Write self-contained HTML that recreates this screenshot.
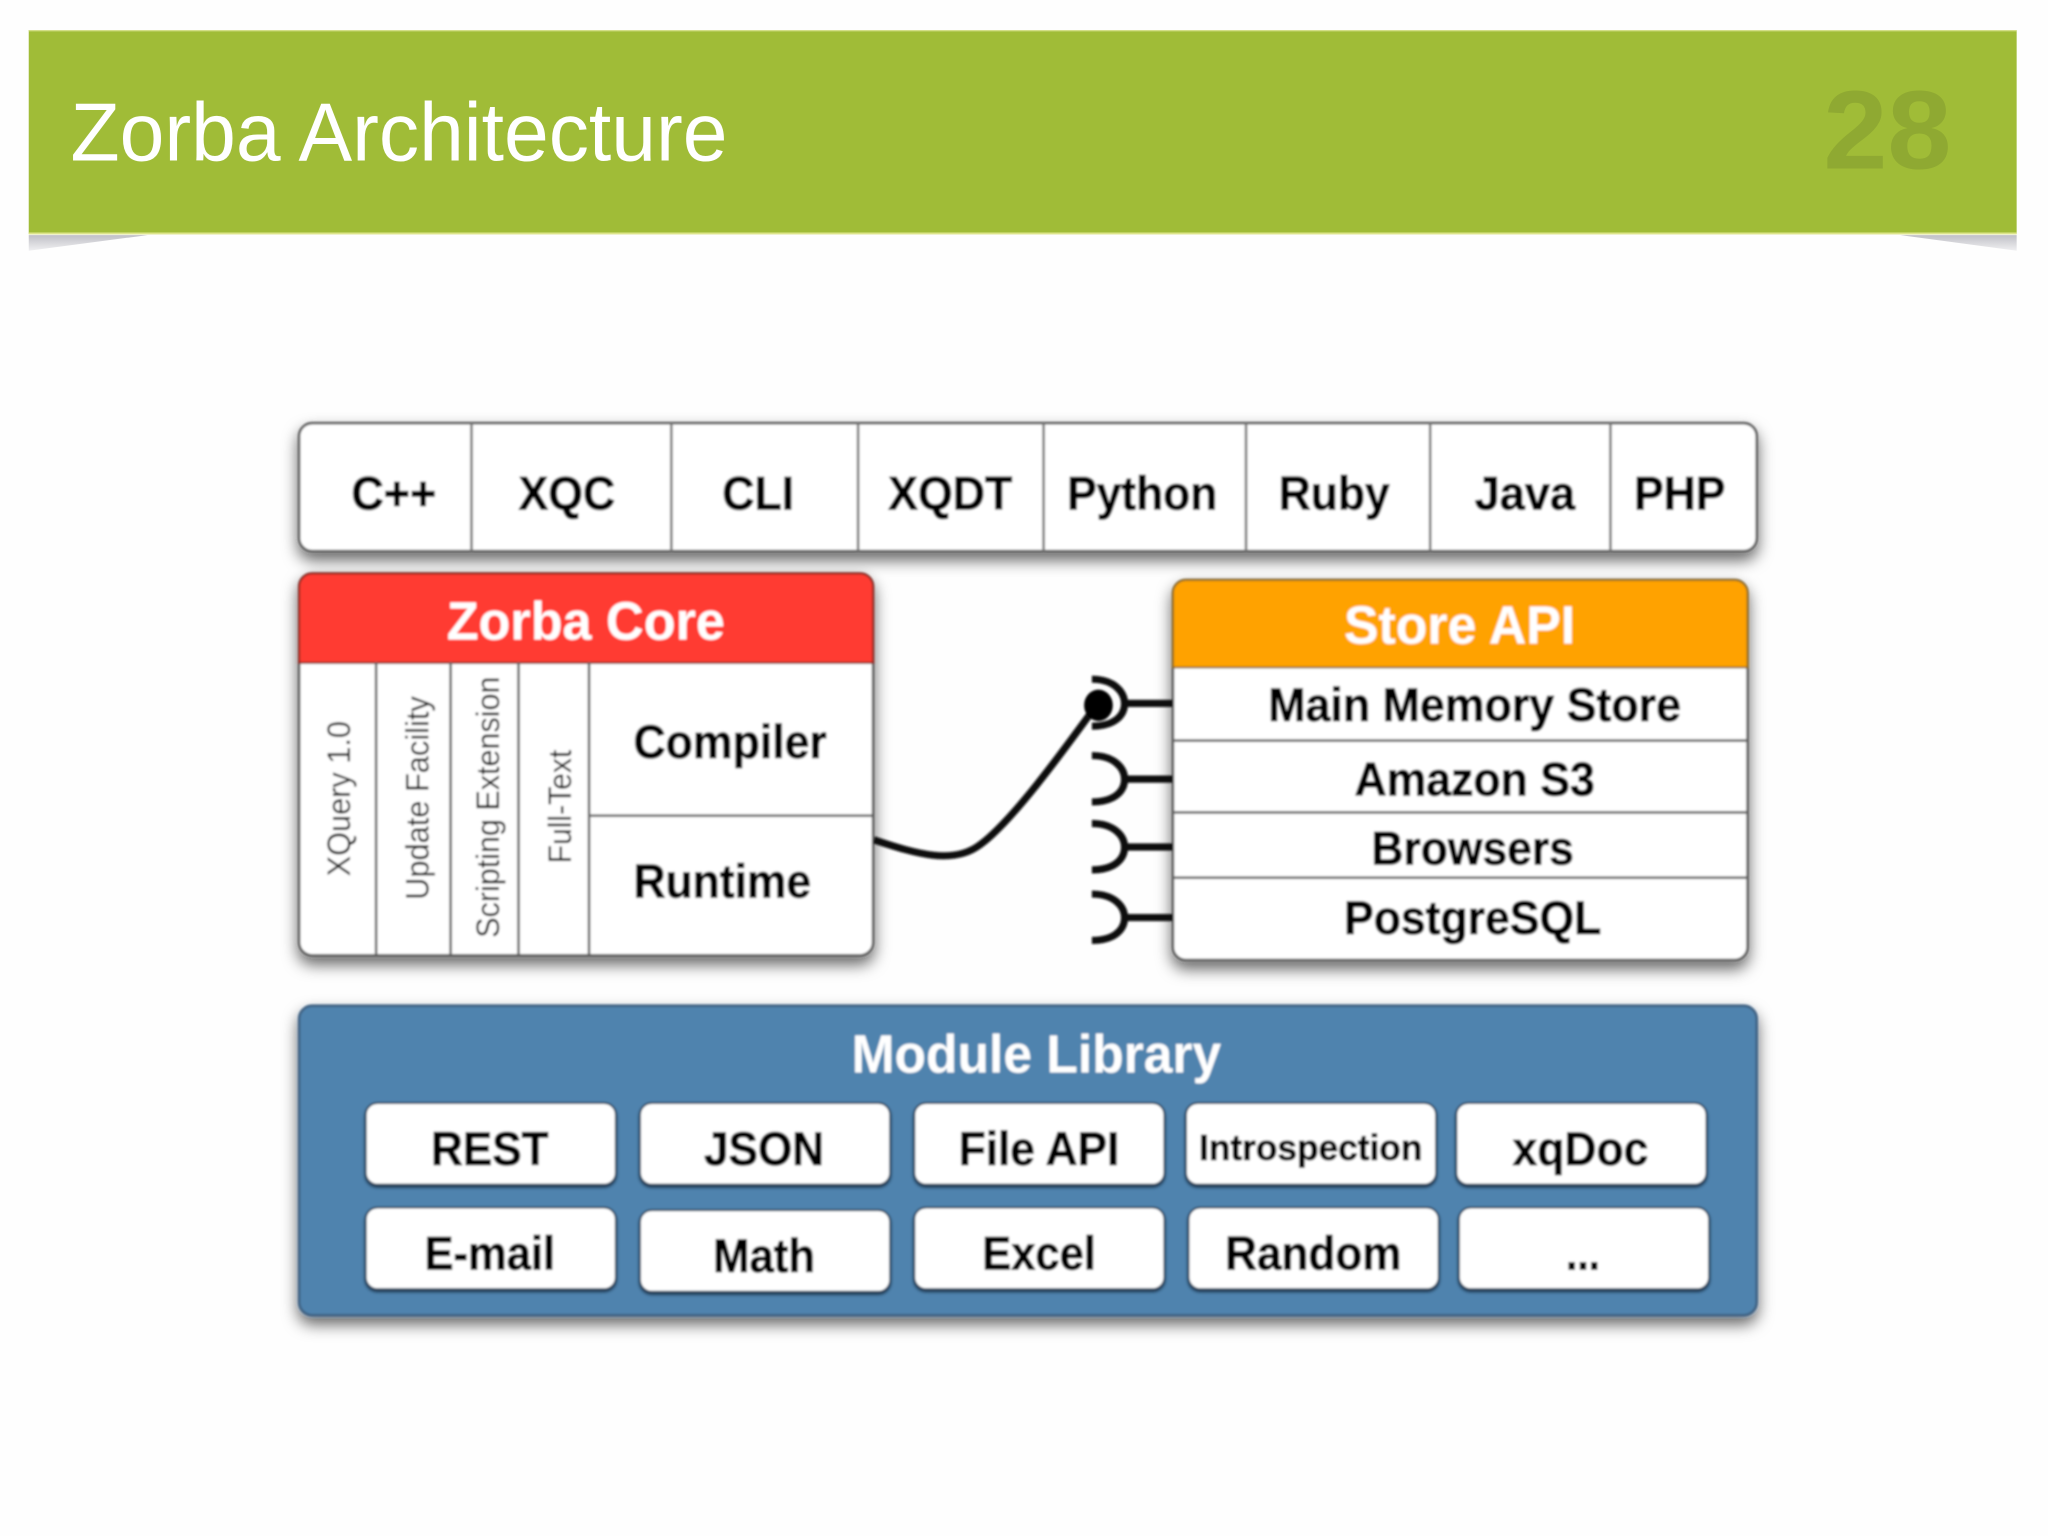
<!DOCTYPE html>
<html>
<head>
<meta charset="utf-8">
<style>
html,body{margin:0;padding:0;background:#fefefe;}
svg{display:block;width:2048px;height:1536px;}
text{font-family:"Liberation Sans",sans-serif;}
.b{font-weight:bold;fill:#000;font-size:36px;stroke:#000;stroke-width:0.6px;}
.w{font-weight:bold;fill:#fff;font-size:41px;}
.r{fill:#111;font-size:25px;}
</style>
</head>
<body>
<svg xmlns="http://www.w3.org/2000/svg" viewBox="0 0 1568 1176">
<defs>
<filter id="sh" x="-5%" y="-10%" width="110%" height="130%">
<feDropShadow dx="0" dy="6" stdDeviation="6" flood-color="#000" flood-opacity="0.6"/>
</filter>
<filter id="sm" x="-5%" y="-5%" width="110%" height="110%">
<feGaussianBlur stdDeviation="0.8"/>
</filter>
<filter id="is" x="-5%" y="-10%" width="110%" height="125%">
<feDropShadow dx="0" dy="1.5" stdDeviation="1" flood-color="#0a2030" flood-opacity="0.85"/>
</filter>
<linearGradient id="g1" x1="0" y1="0" x2="0" y2="1"><stop offset="0" stop-color="#c0c0c6"/><stop offset="1" stop-color="#f0f0f2"/></linearGradient>
</defs>
<rect width="1568" height="1176" fill="#fefefe"/>

<!-- header -->
<polygon points="22,180 113,180 22,192" fill="url(#g1)"/>
<polygon points="1455,180 1544,180 1544,192" fill="url(#g1)"/>
<rect x="22" y="23" width="1522" height="156" fill="#a0bc37"/>
<rect x="22" y="23" width="1522" height="1" fill="#d5e08a"/>
<rect x="22" y="178" width="1522" height="1.5" fill="#dde58a"/>
<text x="54" y="123" font-size="63" fill="#fff" textLength="503" lengthAdjust="spacingAndGlyphs">Zorba Architecture</text>
<text x="1396" y="129" font-size="85" font-weight="bold" fill="#8fa932" textLength="98" lengthAdjust="spacingAndGlyphs">28</text>

<g filter="url(#sm)">
<!-- top row -->
<rect x="229" y="324" width="1116" height="98" rx="10" fill="#fff" stroke="#555" stroke-width="2" filter="url(#sh)"/>
<g stroke="#777" stroke-width="2">
<line x1="361" y1="324" x2="361" y2="422"/>
<line x1="514" y1="324" x2="514" y2="422"/>
<line x1="657" y1="324" x2="657" y2="422"/>
<line x1="799" y1="324" x2="799" y2="422"/>
<line x1="954" y1="324" x2="954" y2="422"/>
<line x1="1095" y1="324" x2="1095" y2="422"/>
<line x1="1233" y1="324" x2="1233" y2="422"/>
</g>
<text class="b" x="269" y="390" textLength="65" lengthAdjust="spacingAndGlyphs">C++</text>
<text class="b" x="397" y="390" textLength="74" lengthAdjust="spacingAndGlyphs">XQC</text>
<text class="b" x="553" y="390" textLength="55" lengthAdjust="spacingAndGlyphs">CLI</text>
<text class="b" x="680" y="390" textLength="95" lengthAdjust="spacingAndGlyphs">XQDT</text>
<text class="b" x="817" y="390" textLength="115" lengthAdjust="spacingAndGlyphs">Python</text>
<text class="b" x="979" y="390" textLength="85" lengthAdjust="spacingAndGlyphs">Ruby</text>
<text class="b" x="1129" y="390" textLength="77" lengthAdjust="spacingAndGlyphs">Java</text>
<text class="b" x="1251" y="390" textLength="70" lengthAdjust="spacingAndGlyphs">PHP</text>

<!-- Zorba Core -->
<rect x="229" y="439" width="439.5" height="292.5" rx="10" fill="#fff" stroke="#555" stroke-width="2" filter="url(#sh)"/>
<path d="M229,507.5 V449 a10,10 0 0 1 10,-10 H658.5 a10,10 0 0 1 10,10 V507.5 Z" fill="#ff3a32" stroke="#8a2a20" stroke-width="1.5"/>
<text class="w" x="342" y="489.5" textLength="213" lengthAdjust="spacingAndGlyphs">Zorba Core</text>
<g stroke="#666" stroke-width="2">
<line x1="288" y1="507" x2="288" y2="731"/>
<line x1="345" y1="507" x2="345" y2="731"/>
<line x1="397" y1="507" x2="397" y2="731"/>
<line x1="451" y1="507" x2="451" y2="731"/>
<line x1="451" y1="624.5" x2="668" y2="624.5"/>
</g>
<text class="b" x="485" y="580.5" textLength="148" lengthAdjust="spacingAndGlyphs">Compiler</text>
<text class="b" x="485" y="687" textLength="136" lengthAdjust="spacingAndGlyphs">Runtime</text>
<text class="r" transform="translate(268,671) rotate(-90)" textLength="119" lengthAdjust="spacingAndGlyphs">XQuery 1.0</text>
<text class="r" transform="translate(328,689) rotate(-90)" textLength="156" lengthAdjust="spacingAndGlyphs">Update Facility</text>
<text class="r" transform="translate(382,718) rotate(-90)" textLength="200" lengthAdjust="spacingAndGlyphs">Scripting Extension</text>
<text class="r" transform="translate(437,661) rotate(-90)" textLength="87" lengthAdjust="spacingAndGlyphs">Full-Text</text>

<!-- Store API -->
<rect x="898" y="444" width="440" height="291" rx="10" fill="#fff" stroke="#555" stroke-width="2" filter="url(#sh)"/>
<path d="M898,511 V454 a10,10 0 0 1 10,-10 H1328 a10,10 0 0 1 10,10 V511 Z" fill="#ffa200" stroke="#8a6a20" stroke-width="1.5"/>
<text class="w" x="1029" y="492.5" textLength="177" lengthAdjust="spacingAndGlyphs">Store API</text>
<g stroke="#666" stroke-width="2">
<line x1="898" y1="567" x2="1338" y2="567"/>
<line x1="898" y1="622" x2="1338" y2="622"/>
<line x1="898" y1="672" x2="1338" y2="672"/>
</g>
<text class="b" x="971" y="552" textLength="316" lengthAdjust="spacingAndGlyphs">Main Memory Store</text>
<text class="b" x="1037" y="609" textLength="184" lengthAdjust="spacingAndGlyphs">Amazon S3</text>
<text class="b" x="1050" y="662" textLength="155" lengthAdjust="spacingAndGlyphs">Browsers</text>
<text class="b" x="1029" y="715" textLength="197" lengthAdjust="spacingAndGlyphs">PostgreSQL</text>

<!-- sockets -->
<g fill="none" stroke="#111" stroke-width="5.5">
<path d="M836,520 C853,520 861,530 861,538.5 C861,548 853,556 836,556"/>
<path d="M836,578.5 C853,578.5 861,588 861,596.5 C861,606 853,614 836,614"/>
<path d="M836,630.5 C853,630.5 861,640 861,648.5 C861,658 853,666 836,666"/>
<path d="M836,684.5 C853,684.5 861,694 861,702.5 C861,712 853,720 836,720"/>
<line x1="860" y1="538.5" x2="898" y2="538.5"/>
<line x1="860" y1="596.5" x2="898" y2="596.5"/>
<line x1="860" y1="648.5" x2="898" y2="648.5"/>
<line x1="860" y1="702.5" x2="898" y2="702.5"/>
<path d="M669,643 C702,654 730,662 750,647 C774,630 814,575 838,542"/>
</g>
<ellipse cx="841" cy="540" rx="11" ry="12" fill="#000"/>

<!-- Module Library -->
<rect x="229" y="770" width="1116" height="237" rx="10" fill="#5083ae" stroke="#3c5f80" stroke-width="2" filter="url(#sh)"/>
<text class="w" x="652" y="821" textLength="283" lengthAdjust="spacingAndGlyphs">Module Library</text>
<g fill="#fff" stroke="#2f4a62" stroke-width="1.5" filter="url(#is)">
<rect x="280" y="844.5" width="191.5" height="62.5" rx="9"/>
<rect x="490" y="844.5" width="191.5" height="62.5" rx="9"/>
<rect x="700" y="844.5" width="191.5" height="62.5" rx="9"/>
<rect x="908" y="844.5" width="191.5" height="62.5" rx="9"/>
<rect x="1115" y="844.5" width="191.5" height="62.5" rx="9"/>
<rect x="280" y="924.5" width="191.5" height="62.5" rx="9"/>
<rect x="490" y="926.5" width="191.5" height="62.5" rx="9"/>
<rect x="700" y="924.5" width="191.5" height="62.5" rx="9"/>
<rect x="910" y="924.5" width="191.5" height="62.5" rx="9"/>
<rect x="1117" y="924.5" width="191.5" height="62.5" rx="9"/>
</g>
<text class="b" x="330" y="892" textLength="90" lengthAdjust="spacingAndGlyphs">REST</text>
<text class="b" x="539" y="892" textLength="92" lengthAdjust="spacingAndGlyphs">JSON</text>
<text class="b" x="734" y="892" textLength="123" lengthAdjust="spacingAndGlyphs">File API</text>
<text class="b" x="918" y="888" style="font-size:28px" textLength="171" lengthAdjust="spacingAndGlyphs">Introspection</text>
<text class="b" x="1158" y="892" textLength="104" lengthAdjust="spacingAndGlyphs">xqDoc</text>
<text class="b" x="325" y="972" textLength="100" lengthAdjust="spacingAndGlyphs">E-mail</text>
<text class="b" x="546" y="974" textLength="78" lengthAdjust="spacingAndGlyphs">Math</text>
<text class="b" x="752" y="972" textLength="87" lengthAdjust="spacingAndGlyphs">Excel</text>
<text class="b" x="938" y="972" textLength="135" lengthAdjust="spacingAndGlyphs">Random</text>
<text class="b" x="1199" y="972" textLength="26" lengthAdjust="spacingAndGlyphs">...</text>
</g>
</svg>
</body>
</html>
